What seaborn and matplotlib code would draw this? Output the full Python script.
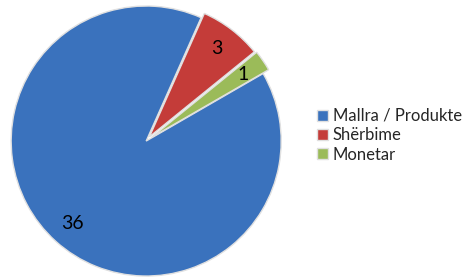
import matplotlib
matplotlib.use("Agg")
import matplotlib.pyplot as plt
import seaborn as sns

# Data
categories = ['Mallra / Produkte', 'Shërbime', 'Monetar']
values = [36, 3, 1]
colors = ['#3a72bd', '#c43c39', '#9bbb59']

sns.set_theme(style='white')
plt.rcParams['font.family'] = ['Lato', 'DejaVu Sans']

fig = plt.figure(figsize=(4.67, 2.79), dpi=100)
ax = fig.add_axes([-0.005, -0.038, 0.636, 1.065])

wedges, texts = ax.pie(values, colors=colors, startangle=30, counterclock=False,
                       explode=[0, 0.04, 0.05], radius=1.0,
                       labels=[str(v) for v in values], labeldistance=0.82,
                       wedgeprops=dict(edgecolor='#e0e0e0', linewidth=1),
                       textprops=dict(fontsize=14, color='black'))
ax.set_xlim(-1.1, 1.1)
ax.set_ylim(-1.1, 1.1)
ax.set_aspect('equal')
ax.axis('off')

for t in texts:
    t.set_ha('center')
    t.set_va('center')

fig.legend(wedges, categories, loc='center left', bbox_to_anchor=(0.647, 0.515),
           frameon=False, fontsize=12, handlelength=0.65, handleheight=0.65,
           handletextpad=0.3, labelspacing=0.2)

fig.savefig('out.png', dpi=100)
